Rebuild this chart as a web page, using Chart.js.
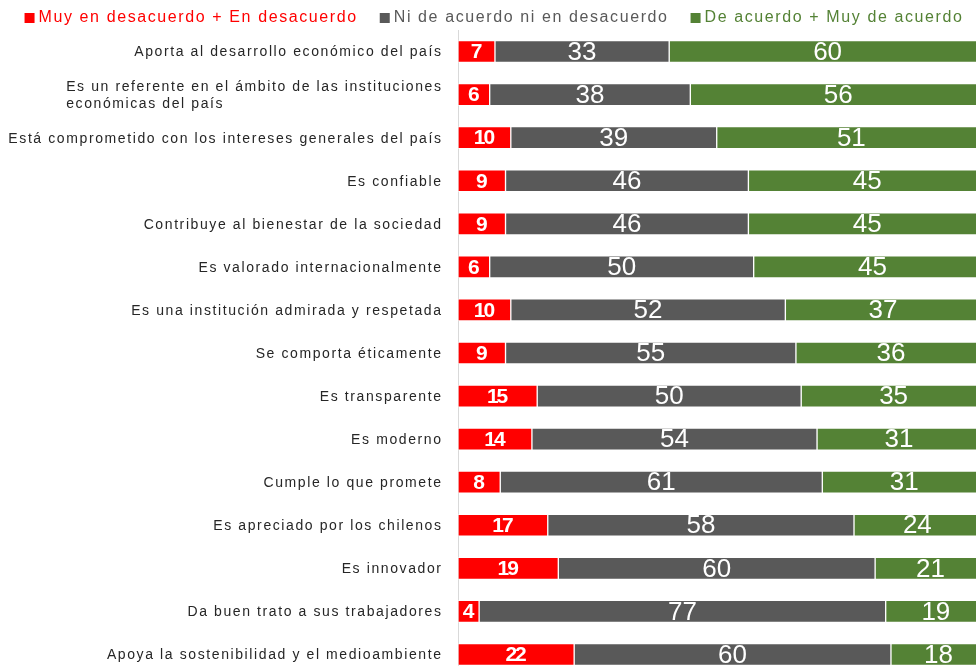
<!DOCTYPE html>
<html>
<head>
<meta charset="utf-8">
<script src="https://cdn.jsdelivr.net/npm/chart.js@4.4.1/dist/chart.umd.min.js"></script>
<style>
    html, body { margin: 0; padding: 0; overflow: hidden; background: #fff; }
    #wrap { width: 990px; height: 680px; }
</style>
</head>
<body>
<div id="wrap"><canvas id="chart"></canvas></div>
<script>
const categories = [
    'Aporta al desarrollo económico del país',
    ['Es un referente en el ámbito de las instituciones', 'económicas del país'],
    'Está comprometido con los intereses generales del país',
    'Es confiable',
    'Contribuye al bienestar de la sociedad',
    'Es valorado internacionalmente',
    'Es una institución admirada y respetada',
    'Se comporta éticamente',
    'Es transparente',
    'Es moderno',
    'Cumple lo que promete',
    'Es apreciado por los chilenos',
    'Es innovador',
    'Da buen trato a sus trabajadores',
    'Apoya la sostenibilidad y el medioambiente'
];
const seriesNames = ['Muy en desacuerdo + En desacuerdo', 'Ni de acuerdo ni en desacuerdo', 'De acuerdo + Muy de acuerdo'];
const desacuerdo = [7, 6, 10, 9, 9, 6, 10, 9, 15, 14, 8, 17, 19, 4, 22];
const neutral = [33, 38, 39, 46, 46, 50, 52, 55, 50, 54, 61, 58, 60, 77, 60];
const acuerdo = [60, 56, 51, 45, 45, 45, 37, 36, 35, 31, 31, 24, 21, 19, 18];
const colors = ['#ff0000', '#595959', '#548235'];

const FONT = '"Liberation Sans", Arial, sans-serif';

// etiquetas, valores y leyenda dibujados a mano
const extras = {
    id: 'extras',
    afterDatasetsDraw(chart) {
        const ctx = chart.ctx;
        ctx.save();
        ctx.textAlign = 'center';
        ctx.textBaseline = 'middle';
        ctx.fillStyle = '#fff';
        chart.data.datasets.forEach((ds, di) => {
            chart.getDatasetMeta(di).data.forEach((bar, i) => {
                const p = bar.getProps(['x', 'y', 'base'], true);
                let cx = (p.x + p.base) / 2;
                if (di === 0) {
                    ctx.font = 'bold 21px ' + FONT;
                    ctx.letterSpacing = '-2px';
                    cx -= 1;
                } else {
                    ctx.font = '26px ' + FONT;
                    ctx.letterSpacing = '0px';
                }
                ctx.fillText(String(ds.data[i]), cx, p.y + 1);
            });
        });
        ctx.restore();
    },
    afterDraw(chart) {
        const ctx = chart.ctx;
        const yScale = chart.scales.y;
        ctx.save();
        // categorías
        ctx.font = '14px ' + FONT;
        ctx.letterSpacing = '1.6px';
        ctx.fillStyle = '#262626';
        ctx.textAlign = 'left';
        ctx.textBaseline = 'middle';
        const right = chart.chartArea.left - 17;
        categories.forEach((lab, i) => {
            const lines = Array.isArray(lab) ? lab : [lab];
            const w = Math.max(...lines.map(l => ctx.measureText(l).width));
            const y = yScale.getPixelForTick(i);
            lines.forEach((l, k) => {
                ctx.fillText(l, right - w + 1.6, y + (k - (lines.length - 1) / 2) * 17 + 1);
            });
        });
        // leyenda
        ctx.font = '16px ' + FONT;
        ctx.letterSpacing = '1.6px';
        const widths = seriesNames.map(n => ctx.measureText(n).width);
        const total = widths.reduce((a, b) => a + b, 0) + 3 * 14 + 2 * 22;
        let x = 494 - total / 2;
        seriesNames.forEach((n, i) => {
            ctx.fillStyle = colors[i];
            ctx.fillRect(x, 13, 10, 10);
            ctx.fillText(n, x + 14, 18);
            x += 14 + widths[i] + 22;
        });
        ctx.restore();
    }
};

const ctx = document.getElementById('chart').getContext('2d');
new Chart(ctx, {
    type: 'bar',
    data: {
        labels: categories,
        datasets: [
            { label: seriesNames[0], data: desacuerdo, backgroundColor: colors[0] },
            { label: seriesNames[1], data: neutral, backgroundColor: colors[1] },
            { label: seriesNames[2], data: acuerdo, backgroundColor: colors[2] }
        ].map(ds => Object.assign(ds, {
            borderColor: 'rgba(255,255,255,0.45)',
            borderWidth: 1,
            borderSkipped: false,
            barThickness: 22
        }))
    },
    options: {
        indexAxis: 'y',
        responsive: true,
        maintainAspectRatio: false,
        animation: false,
        layout: { padding: { top: 30, bottom: 4, right: 4, left: 0 } },
        plugins: {
            legend: { display: false },
            tooltip: { enabled: false }
        },
        scales: {
            x: {
                stacked: true,
                min: 0,
                max: 100,
                display: false
            },
            y: {
                stacked: true,
                grid: { display: false },
                border: { display: true, color: '#d9d9d9' },
                ticks: { display: false },
                afterFit: (scale) => { scale.width = 458; }
            }
        }
    },
    plugins: [extras]
});
</script>
</body>
</html>
